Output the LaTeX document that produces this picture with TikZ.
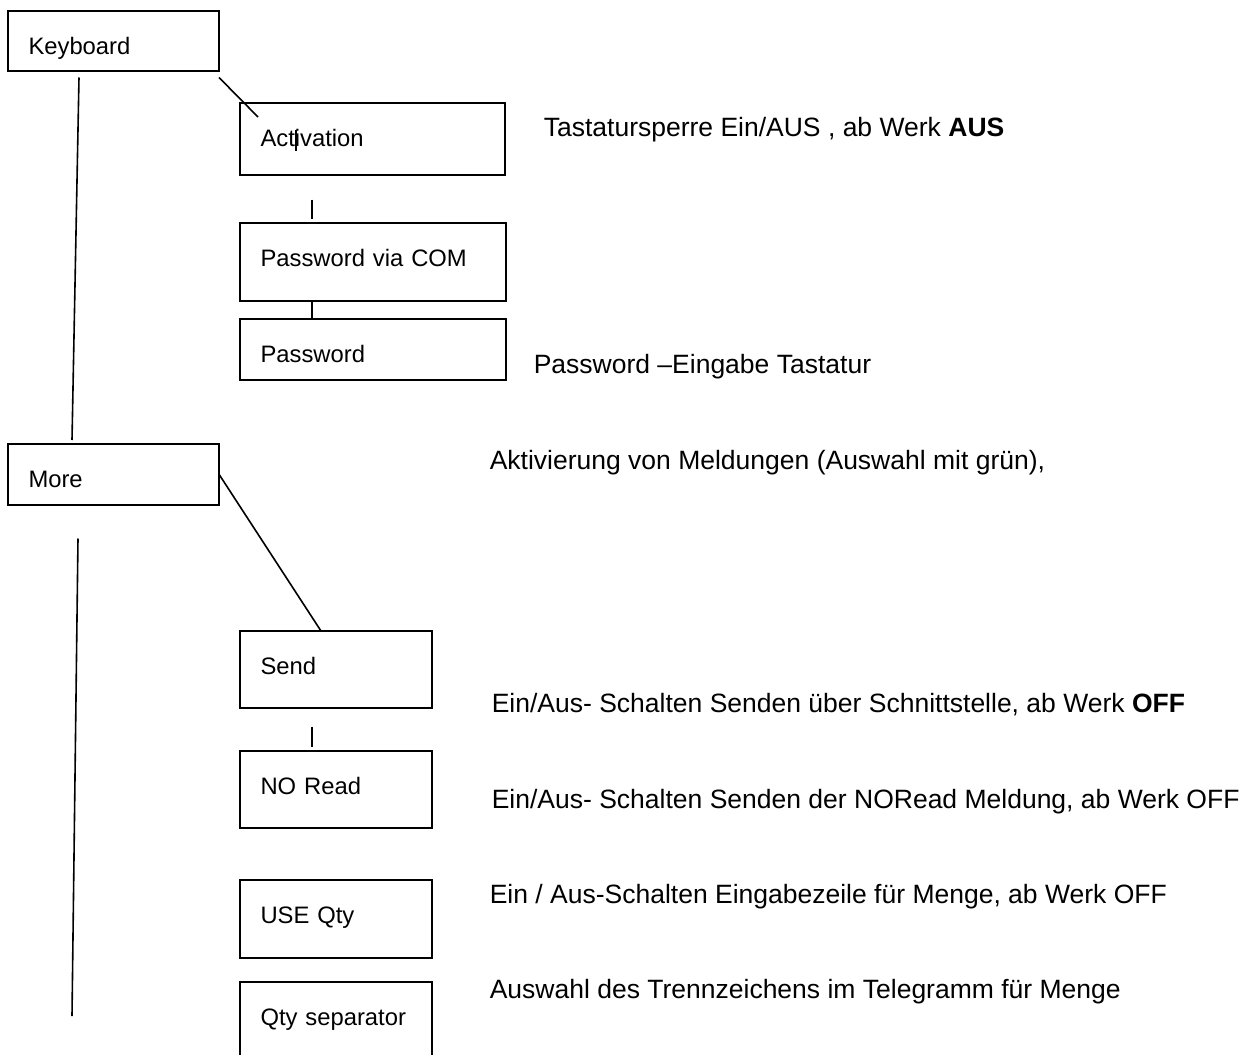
\documentclass[tikz,border=0pt]{standalone}
\usepackage{fontspec}
\setmainfont{Liberation Sans}
\begin{document}
\begin{tikzpicture}[x=1pt,y=-1pt,line width=1.6pt,
  menu/.style={draw,line width=2pt,outer sep=0pt,anchor=north west,inner xsep=20.5pt,inner ysep=0pt,align=left,text height=43.5pt,font=\fontsize{23.8}{28}\selectfont},
  note/.style={anchor=base west,inner sep=0pt,font=\fontsize{26.5}{32}\selectfont}]
\useasboundingbox (0,0) rectangle (1257,1054);
\node[menu,text width=170pt,text depth=17pt] (kbd) at (8,11) {Keyboard};
\node[menu,text width=224pt,text depth=28pt] (act) at (240,103) {Activation};
\node[menu,text width=225pt,text depth=34pt] (pwcom) at (240,223) {Password via COM};
\node[menu,text width=225pt,text depth=17pt] (pw) at (240,319) {Password};
\node[menu,text width=170pt,text depth=17pt] (more) at (8,444) {More};
\node[menu,text width=151pt,text depth=33pt] (send) at (240,631) {Send};
\node[menu,text width=151pt,text depth=33pt] (noread) at (240,751) {NO Read};
\node[menu,text width=151pt,text depth=34pt] (useqty) at (240,880) {USE Qty};
\node[menu,text width=151pt,text depth=34pt] (qtysep) at (240,982) {Qty separator};
\coordinate (trunkend) at (72,1016);
\draw ([xshift=71pt,yshift=-6pt]kbd.south west) -- ([xshift=64pt,yshift=4pt]more.north west);
\draw ([yshift=-6pt]kbd.south east) -- ([xshift=18pt,yshift=-14pt]act.north west);
\draw[line width=1.2pt] ([xshift=56pt,yshift=-27pt]act.north west) -- ++(0,21);
\draw ([xshift=72pt,yshift=-25pt]act.south west) -- ([xshift=72pt,yshift=4pt]pwcom.north west);
\draw ([xshift=72pt]pwcom.south west) -- ([xshift=72pt]pw.north west);
\draw (more.east) -- ([xshift=81pt]send.north west);
\draw ([xshift=70pt,yshift=-34pt]more.south west) -- (trunkend);
\draw ([xshift=72pt,yshift=-19pt]send.south west) -- ([xshift=72pt,yshift=4pt]noread.north west);
\node[note] (actnote) at (543,136) {Tastatursperre Ein/AUS , ab Werk \textbf{AUS}};
\node[note] (pwnote) at (533,373) {Password –Eingabe Tastatur};
\node[note] (morenote) at (489,469) {Aktivierung von Meldungen (Auswahl mit grün),};
\node[note] (sendnote) at (491,712) {Ein/Aus- Schalten Senden über Schnittstelle, ab Werk \textbf{OFF}};
\node[note] (noreadnote) at (491,808) {Ein/Aus- Schalten Senden der NORead Meldung, ab Werk OFF};
\node[note] (useqtynote) at (489,903) {Ein / Aus-Schalten Eingabezeile für Menge, ab Werk OFF};
\node[note] (qtysepnote) at (489,998) {Auswahl des Trennzeichens im Telegramm für Menge};
\end{tikzpicture}
\end{document}
